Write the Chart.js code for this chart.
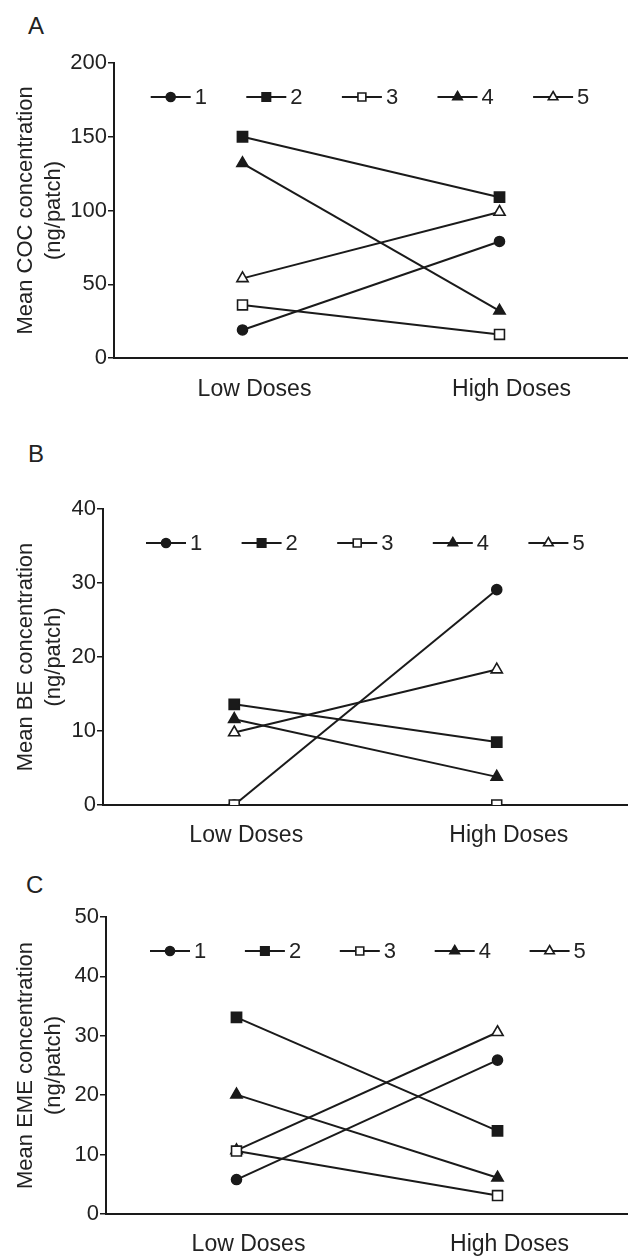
<!DOCTYPE html>
<html><head><meta charset="utf-8">
<script src="https://cdn.jsdelivr.net/npm/chart.js@4.4.1/dist/chart.umd.min.js"></script>
<style>
html,body{margin:0;padding:0;background:#fff;}
body{width:628px;height:1256px;position:relative;overflow:hidden;font-family:"Liberation Sans",Arial,sans-serif;}
.letter{position:absolute;font-size:24px;line-height:24px;color:#222;}
canvas{position:absolute;left:0;}
</style></head><body>
<div class="letter" style="left:28px;top:14px">A</div>
<div class="letter" style="left:28px;top:442px">B</div>
<div class="letter" style="left:26px;top:873px">C</div>
<canvas id="cA" width="628" height="410" style="top:0px"></canvas>
<canvas id="cB" width="628" height="436" style="top:420px"></canvas>
<canvas id="cC" width="628" height="420" style="top:836px"></canvas>
<script>
// ---- data ----
const categories = ['Low Doses', 'High Doses'];
const seriesLabels = ['1', '2', '3', '4', '5'];

const cocLow  = [19, 150, 36, 132, 54];
const cocHigh = [79, 109, 16, 32, 99];
const cocTicks = [0, 50, 100, 150, 200];

const beLow  = [0, 13.6, 0, 11.6, 9.8];
const beHigh = [29.1, 8.5, 0, 3.8, 18.3];
const beTicks = [0, 10, 20, 30, 40];

const emeLow  = [5.8, 33.1, 10.6, 20.1, 10.7];
const emeHigh = [25.9, 14.0, 3.1, 6.1, 30.6];
const emeTicks = [0, 10, 20, 30, 40, 50];

// ---- styles ----
const INK = '#1a1a1a';
const TXT = '#222';
const FONT = '"Liberation Sans", Arial, sans-serif';
Chart.defaults.font.family = FONT;
Chart.defaults.font.size = 22;
Chart.defaults.color = TXT;

const markerStyles = [
  {pointStyle: 'circle',   fill: INK,    radius: 5,   legendRadius: 4.5},
  {pointStyle: 'rect',     fill: INK,    radius: 7.2, legendRadius: 6},
  {pointStyle: 'rect',     fill: '#fff', radius: 7,   legendRadius: 5.6},
  {pointStyle: 'triangle', fill: INK,    radius: 6.5, legendRadius: 5.5},
  {pointStyle: 'triangle', fill: '#fff', radius: 6.5, legendRadius: 5.5}
];
const drawOrder = [2, 3, 0, 4, 1];

function drawMarker(ctx, style, r, x, y) {
  ctx.beginPath();
  if (style === 'circle') {
    ctx.arc(x, y, r, 0, Math.PI * 2);
  } else if (style === 'rect') {
    const s = Math.SQRT1_2 * r;
    ctx.rect(x - s, y - s, 2 * s, 2 * s);
  } else {
    let rad = 0;
    ctx.moveTo(x + Math.sin(rad) * r, y - Math.cos(rad) * r);
    rad += 2 * Math.PI / 3;
    ctx.lineTo(x + Math.sin(rad) * r, y - Math.cos(rad) * r);
    rad += 2 * Math.PI / 3;
    ctx.lineTo(x + Math.sin(rad) * r, y - Math.cos(rad) * r);
    ctx.closePath();
  }
  ctx.fill();
  ctx.stroke();
}

const inlineLegend = {
  id: 'inlineLegend',
  afterDatasetsDraw(chart, args, opts) {
    const ctx = chart.ctx;
    const y = chart.chartArea.top + opts.dy;
    chart.data.datasets.forEach((ds, i) => {
      const cx = opts.x0 + i * opts.step;
      const m = markerStyles[i];
      ctx.save();
      ctx.strokeStyle = INK;
      ctx.lineWidth = 2;
      ctx.beginPath();
      ctx.moveTo(cx - 20, y);
      ctx.lineTo(cx + 20, y);
      ctx.stroke();
      ctx.fillStyle = m.fill;
      ctx.lineWidth = 1.6;
      drawMarker(ctx, m.pointStyle, m.legendRadius, cx, y);
      ctx.fillStyle = TXT;
      ctx.font = '22px ' + FONT;
      ctx.textAlign = 'left';
      ctx.textBaseline = 'middle';
      ctx.fillText(ds.label, cx + 24, y + 1);
      ctx.restore();
    });
  }
};

function makeChart(id, low, high, ticks, titleLines, geo) {
  const datasets = seriesLabels.map((lab, i) => ({
    label: lab,
    data: [low[i], high[i]],
    borderColor: INK,
    borderWidth: 2,
    pointStyle: markerStyles[i].pointStyle,
    pointRadius: markerStyles[i].radius,
    pointHoverRadius: markerStyles[i].radius,
    pointBackgroundColor: markerStyles[i].fill,
    pointBorderColor: INK,
    pointBorderWidth: 1.6,
    order: drawOrder[i],
    tension: 0,
    fill: false
  }));
  return new Chart(document.getElementById(id), {
    type: 'line',
    data: {labels: categories, datasets},
    plugins: [inlineLegend],
    options: {
      responsive: false,
      animation: false,
      events: [],
      layout: {autoPadding: false, padding: {top: geo.top, right: 0, left: 0, bottom: 0}},
      plugins: {
        legend: {display: false},
        tooltip: {enabled: false},
        inlineLegend: {x0: geo.legendX, step: geo.legendStep, dy: 34}
      },
      scales: {
        x: {
          type: 'category',
          offset: true,
          grid: {display: false, drawTicks: false},
          border: {display: true, color: INK, width: 2},
          ticks: {padding: geo.xPad, labelOffset: 12, maxRotation: 0, autoSkip: false, color: TXT, font: {size: 23}},
          afterFit: s => { s.height = geo.xHeight; }
        },
        y: {
          min: ticks[0],
          max: ticks[ticks.length - 1],
          ticks: {stepSize: ticks[1] - ticks[0], padding: 1, color: TXT, font: {size: 22}},
          grid: {display: true, drawOnChartArea: false, drawTicks: true, tickLength: 6, color: INK, lineWidth: 1.5},
          border: {display: true, color: INK, width: 2},
          title: {display: true, text: titleLines, color: TXT, padding: {top: 12, bottom: 0},
                  font: {size: 22, lineHeight: 1.27}},
          afterFit: s => { s.width = geo.yWidth; }
        }
      }
    }
  });
}

makeChart('cA', cocLow, cocHigh, cocTicks, ['Mean COC concentration', '(ng/patch)'],
  {top: 63, yWidth: 114, xHeight: 52, xPad: 18, legendX: 170.7, legendStep: 95.6});
makeChart('cB', beLow, beHigh, beTicks, ['Mean BE concentration', '(ng/patch)'],
  {top: 89, yWidth: 103, xHeight: 51, xPad: 17, legendX: 166, legendStep: 95.6});
makeChart('cC', emeLow, emeHigh, emeTicks, ['Mean EME concentration', '(ng/patch)'],
  {top: 81, yWidth: 106, xHeight: 42, xPad: 16.5, legendX: 170, legendStep: 94.9});
</script>
</body></html>
